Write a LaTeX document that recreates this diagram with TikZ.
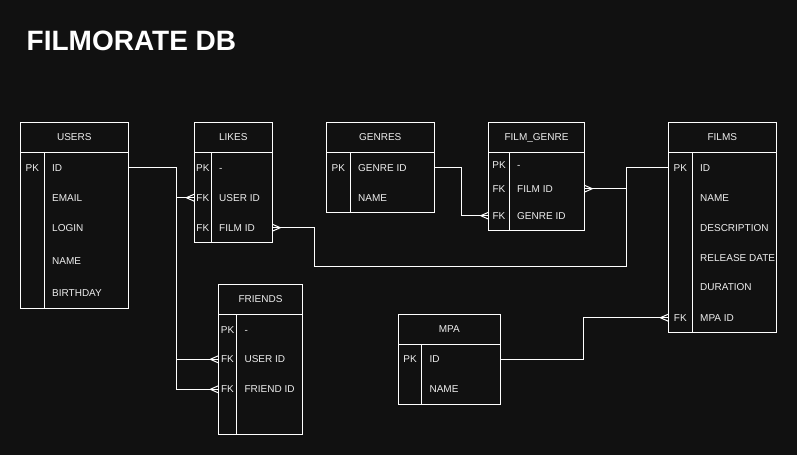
\documentclass[tikz,border=0pt]{standalone}
\usepackage{fontspec}
\setmainfont{Liberation Sans}
\definecolor{bg}{HTML}{111111}
\definecolor{txt}{HTML}{EEEEEE}
\newcommand\mktable[8]{%
  \node[tbl, minimum width={(#4-#2)*1pt}, minimum height={(#5-#3)*1pt}] (#1) at ({(#2+#4)/2},{(#3+#5)/2}) {};
  \draw[wline] (#2,#6) -- (#4,#6) (#7,#6) -- (#7,#5);
  \node[hdr] (#1-h) at ({(#2+#4)/2},{(#3+#6)/2}) {#8};
}
\newcommand\mkrow[6]{%
  \node[keytxt] (#1-k) at ({(#6+#5)/2},#2) {#3};
  \node[fld] (#1) at ({#5+7.7},#2) {#4};
}
\begin{document}
\begin{tikzpicture}[x=1pt,y=-1pt,
  wline/.style={draw=white, line width=1pt},
  tbl/.style={wline, rectangle, inner sep=0pt, outer sep=0pt},
  hdr/.style={text=txt, font=\fontsize{10}{12}\selectfont, inner sep=0pt, text height=7.2pt, text depth=0pt},
  keytxt/.style={hdr},
  fld/.style={hdr, anchor=west},
  conn/.style={wline},
  crowL/.pic={\draw[wline] (-8,0) -- (0,-3.5) (-8,0) -- (0,3.5);},
  crowR/.pic={\draw[wline] (8,0) -- (0,-3.5) (8,0) -- (0,3.5);},
]
\fill[bg] (0,0) rectangle (797,455);
\useasboundingbox (0,0) rectangle (797,455);

\node[text=white, font=\fontsize{28}{32}\selectfont\bfseries, anchor=base west, inner sep=0pt] (title) at (26.5,50) {FILMORATE DB};

% USERS
\mktable{users}{20.3}{122.3}{128.3}{308.3}{152.3}{44.3}{USERS}
\mkrow{users-id}{167.7}{PK}{ID}{44.3}{20.3}
\mkrow{users-email}{197.7}{}{EMAIL}{44.3}{20.3}
\mkrow{users-login}{227.7}{}{LOGIN}{44.3}{20.3}
\mkrow{users-name}{260.7}{}{NAME}{44.3}{20.3}
\mkrow{users-bd}{293.3}{}{BIRTHDAY}{44.3}{20.3}

% LIKES
\mktable{likes}{194.3}{122.3}{272.3}{242.3}{152.3}{211.3}{LIKES}
\mkrow{likes-pk}{167.7}{PK}{-}{211.3}{194.3}
\mkrow{likes-uid}{197.7}{FK}{USER ID}{211.3}{194.3}
\mkrow{likes-fid}{227.7}{FK}{FILM ID}{211.3}{194.3}

% GENRES
\mktable{genres}{326.3}{122.3}{434.3}{212.3}{152.3}{350.3}{GENRES}
\mkrow{genres-gid}{167.7}{PK}{GENRE ID}{350.3}{326.3}
\mkrow{genres-name}{197.7}{}{NAME}{350.3}{326.3}

% FILM_GENRE
\mktable{fg}{488.7}{122.3}{584.3}{230.3}{152.3}{509.3}{FILM\_GENRE}
\mkrow{fg-pk}{164.7}{PK}{-}{509.3}{488.7}
\mkrow{fg-fid}{188.7}{FK}{FILM ID}{509.3}{488.7}
\mkrow{fg-gid}{215.7}{FK}{GENRE ID}{509.3}{488.7}

% FILMS
\mktable{films}{668.3}{122.3}{776.3}{332.3}{152.3}{692.3}{FILMS}
\mkrow{films-id}{167.7}{PK}{ID}{692.3}{668.3}
\mkrow{films-name}{197.7}{}{NAME}{692.3}{668.3}
\mkrow{films-desc}{227.7}{}{DESCRIPTION}{692.3}{668.3}
\mkrow{films-rd}{257.7}{}{RELEASE DATE}{692.3}{668.3}
\mkrow{films-dur}{287.3}{}{DURATION}{692.3}{668.3}
\mkrow{films-mpa}{317.7}{FK}{MPA ID}{692.3}{668.3}

% FRIENDS
\mktable{friends}{218.3}{284.3}{302.7}{434.3}{314.3}{236.7}{FRIENDS}
\mkrow{fr-pk}{330}{PK}{-}{236.7}{218.3}
\mkrow{fr-uid}{359.3}{FK}{USER ID}{236.7}{218.3}
\mkrow{fr-fid}{389.3}{FK}{FRIEND ID}{236.7}{218.3}

% MPA
\mktable{mpa}{398.3}{314.3}{500.3}{404.3}{344.3}{421.7}{MPA}
\mkrow{mpa-id}{359.3}{PK}{ID}{421.7}{398.3}
\mkrow{mpa-name}{389.3}{}{NAME}{421.7}{398.3}

% bend coordinates
\coordinate (b1) at (176.3,0);
\coordinate (b2) at (626.3,0);
\coordinate (b3) at (314.3,266);
\coordinate (b4) at (461.7,0);
\coordinate (b5) at (583.3,0);

% USERS -> LIKES, FRIENDS
\draw[conn] (users.east |- users-id) -| (b1 |- likes-uid) -- (likes.west |- likes-uid);
\draw[conn] (b1 |- likes-uid) |- (friends.west |- fr-uid);
\draw[conn] (b1 |- fr-uid) |- (friends.west |- fr-fid);
\pic at (likes.west |- likes-uid) {crowL};
\pic at (friends.west |- fr-uid) {crowL};
\pic at (friends.west |- fr-fid) {crowL};

% FILMS -> FILM_GENRE, LIKES
\draw[conn] (films.west |- films-id) -| (b2 |- fg-fid) -- (fg.east |- fg-fid);
\draw[conn] (b2 |- fg-fid) |- (b3) |- (likes.east |- likes-fid);
\pic at (fg.east |- fg-fid) {crowR};
\pic at (likes.east |- likes-fid) {crowR};

% GENRES -> FILM_GENRE
\draw[conn] (genres.east |- genres-gid) -| (b4 |- fg-gid) -- (fg.west |- fg-gid);
\pic at (fg.west |- fg-gid) {crowL};

% MPA -> FILMS
\draw[conn] (mpa.east |- mpa-id) -| (b5 |- films-mpa) -- (films.west |- films-mpa);
\pic at (films.west |- films-mpa) {crowL};
\end{tikzpicture}
\end{document}
